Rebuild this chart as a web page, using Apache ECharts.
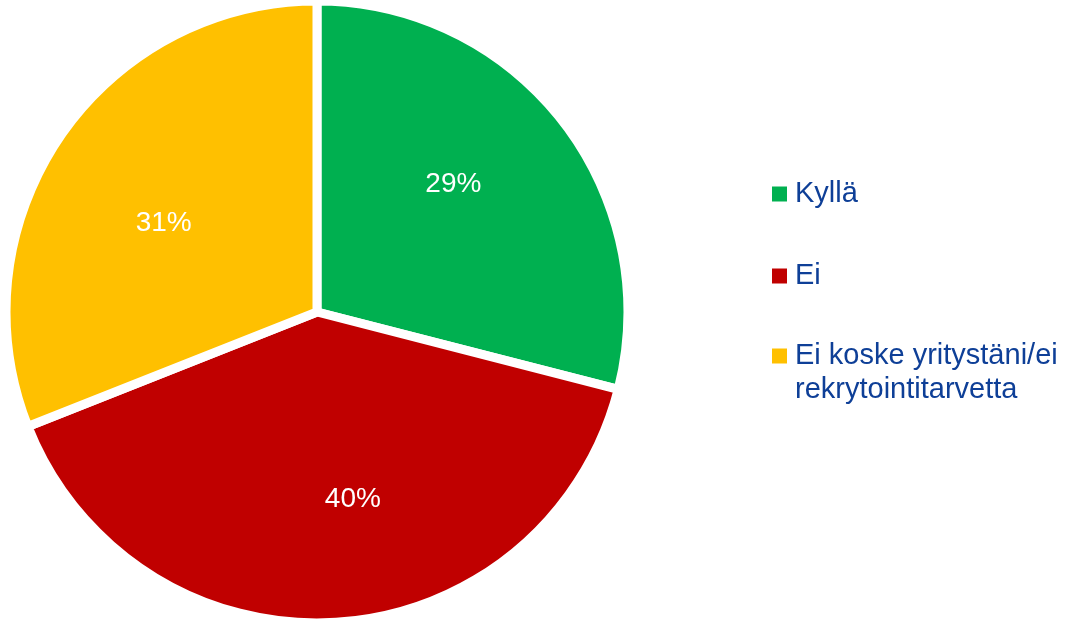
<!DOCTYPE html>
<html><head><meta charset="utf-8">
<script src="https://cdn.jsdelivr.net/npm/echarts@6/dist/echarts.min.js"></script>
<style>html,body{margin:0;padding:0;background:#fff}#c{width:1065px;height:620px}</style>
</head><body><div id="c"></div>
<script>
const categories = ['Kyllä', 'Ei', 'Ei koske yritystäni/ei rekrytointitarvetta'];
const values = [29, 40, 31];
const colors = ['#00B050', '#C00000', '#FFC000'];
const legendLabels = ['Kyllä', 'Ei', 'Ei koske yritystäni/ei\nrekrytointitarvetta'];
// style only: small nudges of the value labels, as in the original
const labelNudges = [[-13, -12], [24, -1], [3, 18]];

const chart = echarts.init(document.getElementById('c'));
const data = categories.map((n, i) => ({ name: n, value: values[i], itemStyle: { color: colors[i] } }));
const font = 'Liberation Sans, Arial, sans-serif';
const legendTops = [177, 259, 305];
const legends = categories.map((n, i) => ({
  data: [n],
  left: 772,
  top: legendTops[i],
  padding: 0,
  orient: 'vertical',
  icon: 'rect',
  itemWidth: 15,
  itemHeight: 15,
  itemGap: 0,
  selectedMode: false,
  itemStyle: { borderWidth: 0 },
  formatter: () => (i === 2 ? '\n' : '') + legendLabels[i],
  textStyle: { color: '#0E3F97', fontSize: 29, fontFamily: font, lineHeight: 34, padding: [0, 0, 0, 3] }
}));
chart.setOption({
  animation: false,
  legend: legends,
  series: [{
    type: 'pie',
    center: [317, 312],
    radius: [0, 311],
    startAngle: 90,
    clockwise: true,
    silent: true,
    itemStyle: { borderColor: '#fff', borderWidth: 9 },
    label: { show: false },
    labelLine: { show: false },
    data: data
  }, {
    type: 'pie',
    center: [317, 312],
    radius: [0, 372],
    startAngle: 90,
    clockwise: true,
    silent: true,
    legendHoverLink: false,
    itemStyle: { color: 'rgba(0,0,0,0)' },
    label: { show: true, position: 'inside', color: '#fff', fontSize: 28, fontFamily: font,
             formatter: p => p.value + '%' },
    labelLine: { show: false },
    data: categories.map((n, i) => ({ name: n, value: values[i], label: { offset: labelNudges[i] } }))
  }]
});
</script></body></html>
